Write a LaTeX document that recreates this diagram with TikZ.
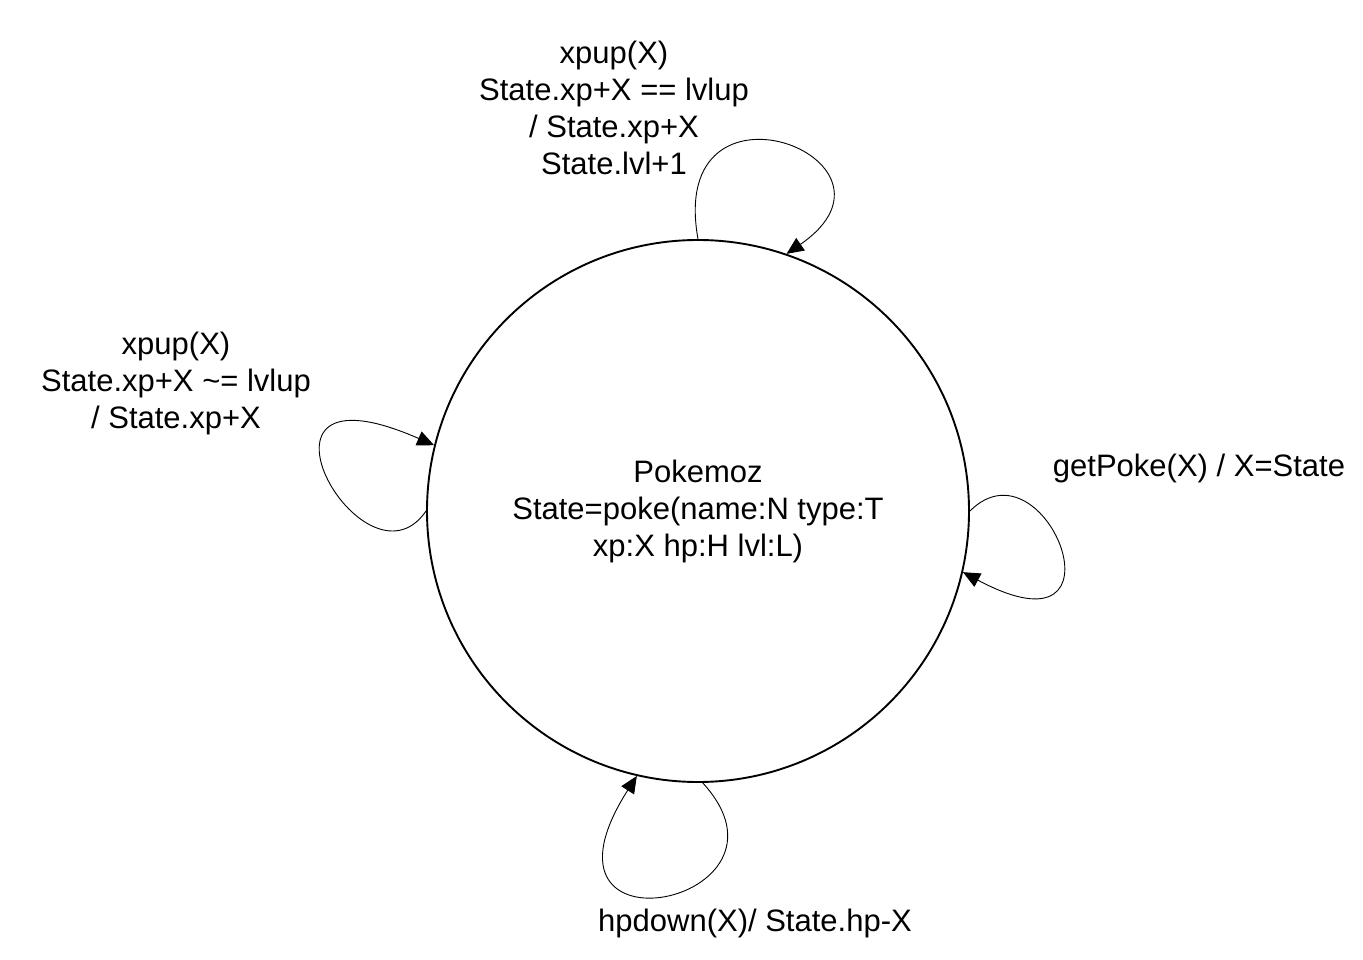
\documentclass[tikz,border=0pt]{standalone}
\usepackage{fontspec}
\setmainfont{Liberation Sans}
\usepackage{tikz}
\usetikzlibrary{arrows.meta,shapes.geometric}
\tikzset{
  statefont/.style={font=\fontsize{31}{37}\selectfont},
  statecirc/.style={circle, draw=black, line width=1.9pt, minimum size=542pt, inner sep=0pt, align=center},
  translbl/.style={align=center, inner sep=0pt},
  looparr/.style={-{Triangle[length=17pt,width=15pt]}, line width=0.9pt, draw=black},
}
\begin{document}
\begin{tikzpicture}[x=1pt, y=-1pt, statefont]
  \useasboundingbox (0,0) rectangle (1363,960);
  \node[statecirc] (st) at (698,511) {Pokemoz\\State=poke(name:N type:T\\xp:X hp:H lvl:L)};
  \node[translbl] (lvlup) at (614,108) {xpup(X)\\State.xp+X == lvlup\\/ State.xp+X\\State.lvl+1};
  \node[translbl] (xpup) at (176,383) {xpup(X)\\State.xp+X \textasciitilde= lvlup\\/ State.xp+X};
  \node[translbl] (getp) at (1199,468) {getPoke(X) / X=State};
  \node[translbl] (hpdn) at (755,923) {hpdown(X)/ State.hp-X};
  % self loops
  \draw[looparr] (st.90) .. controls +(-32,-178) and +(138,-95) .. (st.71);
  \draw[looparr] (st.180) .. controls +(-62,90) and +(-210,-92) .. (st.166);
  \draw[looparr] (st.0) .. controls +(76,-76) and +(172,92) .. (st.-13);
  \draw[looparr] (st.-89) .. controls +(110,120) and +(-120,188) .. (st.-103);
\end{tikzpicture}
\end{document}
